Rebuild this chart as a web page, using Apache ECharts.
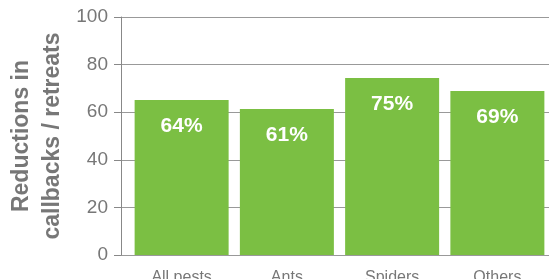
<!DOCTYPE html>
<html>
	<head>
		<meta charset="utf-8" />
		<title>Reductions in callbacks</title>
		<style>
			html, body { margin: 0; padding: 0; background: #fff; }
			#chartmain { width: 549px; height: 279px; }
		</style>
	</head>
	<body>
		<div id="chartmain"></div>
		<script type="text/javascript" src="https://cdn.jsdelivr.net/npm/echarts@6/dist/echarts.min.js"></script>
		<script type="text/javascript">
			// data
			var categories = ['All pests', 'Ants', 'Spiders', 'Others'];
			var barValues = [65.1, 61.3, 74.4, 68.9];   // bar heights as drawn
			var barLabels = ['64%', '61%', '75%', '69%']; // printed on the bars
			var yTicks = [0, 20, 40, 60, 80, 100];

			var font = 'Liberation Sans, Arial, Helvetica, sans-serif';
			var green = '#7bbf43';
			var gray = '#777';

			var option = {
				animation: false,
				grid: [
					// grid 0: y axis, gridlines
					{ left: 121, right: 0, top: 17, bottom: 24, outerBoundsMode: 'none' },
					// grid 1: the bars (a bit to the right of the axis), labels may run off the bottom
					{ left: 129, width: 421, top: 17, bottom: 24, outerBoundsMode: 'none' }
				],
				xAxis: [
					{ gridIndex: 0, type: 'value', show: false, min: 0, max: 1 },
					{
						gridIndex: 1,
						type: 'category',
						data: categories,
						axisLine: { show: false },
						axisTick: { show: false },
						axisLabel: { color: gray, fontFamily: font, fontSize: 16, margin: 15 }
					}
				],
				yAxis: [
					{
						gridIndex: 0,
						type: 'value',
						min: yTicks[0],
						max: yTicks[yTicks.length - 1],
						interval: yTicks[1] - yTicks[0],
						name: 'Reductions in\ncallbacks / retreats',
						nameLocation: 'middle',
						nameRotate: 90,
						nameGap: 53,
						nameMoveOverlap: false,
						nameTextStyle: { color: gray, fontFamily: font, fontSize: 23, fontWeight: 'bold', lineHeight: 31 },
						axisLine: { show: true, lineStyle: { color: '#888', width: 1 } },
						axisTick: { show: true, length: 7, lineStyle: { color: '#888' } },
						axisLabel: { color: gray, fontFamily: font, fontSize: 19, margin: 13 },
						splitLine: { show: true, lineStyle: { color: '#999', width: 1 } }
					},
					{ gridIndex: 1, type: 'value', min: 0, max: 100, show: false }
				],
				series: [{
					type: 'bar',
					xAxisIndex: 1,
					yAxisIndex: 1,
					data: barValues,
					barWidth: 94,
					itemStyle: { color: green },
					label: {
						show: true,
						position: 'insideTop',
						distance: 16,
						color: '#fff',
						fontFamily: font,
						fontSize: 21,
						fontWeight: 'bold',
						formatter: function (p) { return barLabels[p.dataIndex]; }
					}
				}]
			};

			var myChart = echarts.init(document.getElementById('chartmain'));
			myChart.setOption(option);
		</script>
	</body>
</html>
